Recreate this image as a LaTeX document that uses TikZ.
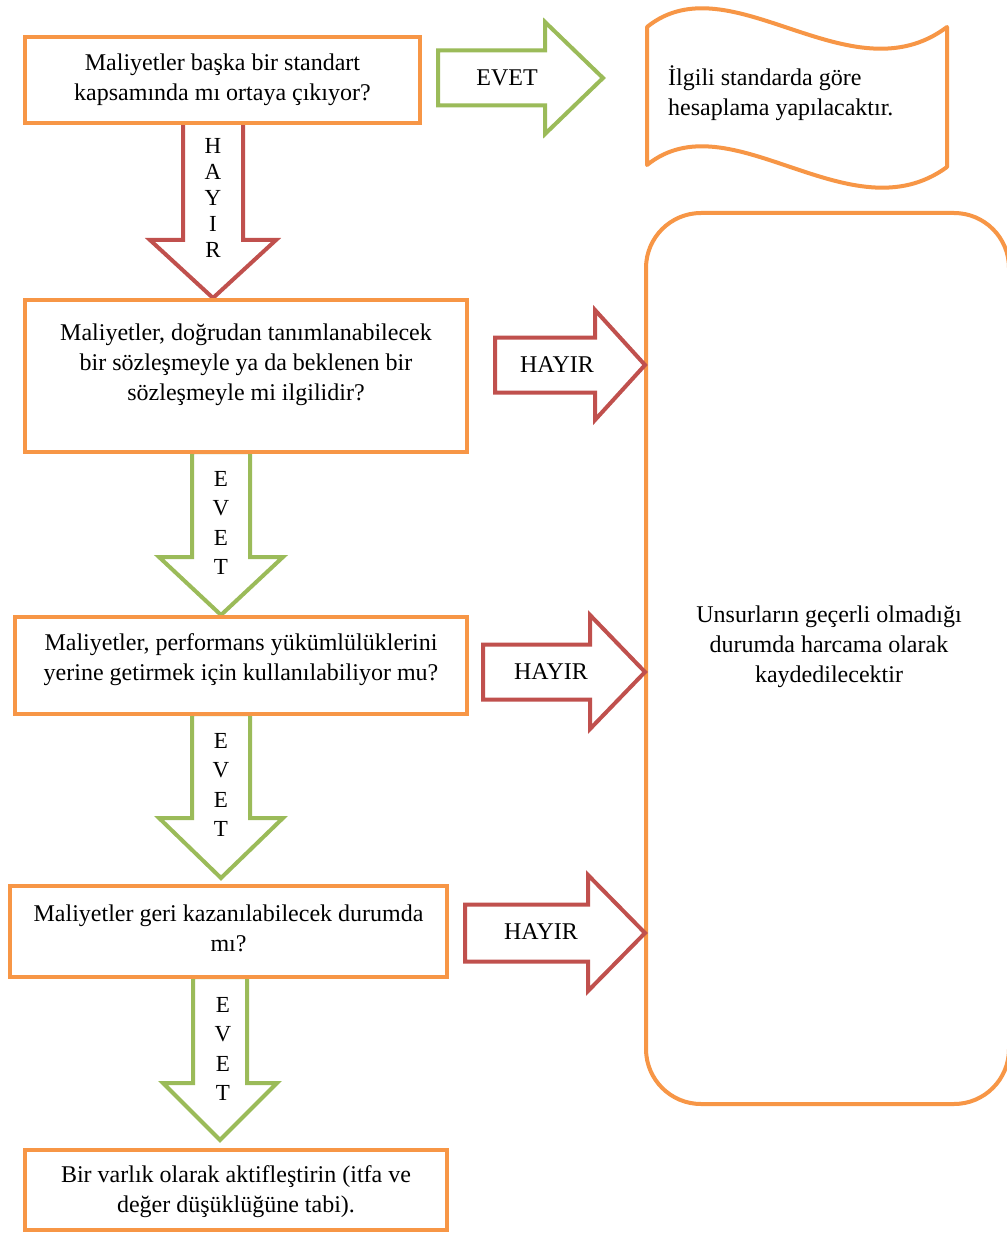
\documentclass[tikz,border=0pt]{standalone}
\usepackage{fontspec}
\setmainfont{Liberation Serif}
\definecolor{ora}{HTML}{F79646}
\definecolor{grn}{HTML}{9BBB59}
\definecolor{rd}{HTML}{C0504D}
\newcommand{\rArrow}[7]{% color, x0, x1, x2, yc, h, H
  \draw[#1, line width=4pt, fill=white, line join=miter]
    (#2,#5-#6) -- (#3,#5-#6) -- (#3,#5-#7) -- (#4,#5) -- (#3,#5+#7) -- (#3,#5+#6) -- (#2,#5+#6) -- cycle;}
\newcommand{\dArrow}[7]{% color, xc, y0, y1, y2, h, H
  \draw[#1, line width=4pt, fill=white, line join=miter]
    (#2-#6,#3) -- (#2-#6,#4) -- (#2-#7,#4) -- (#2,#5) -- (#2+#7,#4) -- (#2+#6,#4) -- (#2+#6,#3) -- cycle;}
\begin{document}
\begin{tikzpicture}[x=1pt,y=-1pt,
  box/.style={draw=ora, line width=4pt, fill=white, rectangle},
  txt/.style={font=\fontsize{24}{30}\selectfont, align=center, inner sep=0pt},
  vtxt/.style={font=\fontsize{23}{26}\selectfont, align=center, inner sep=0pt},
  vtxte/.style={font=\fontsize{23}{29.5}\selectfont, align=center, inner sep=0pt}]
\useasboundingbox (0,0) rectangle (1006,1233);
\fill[white] (0,0) rectangle (1006,1233);

% big rounded box
\draw[ora, line width=4pt, rounded corners=55pt] (646,213) rectangle (1009,1104);
\node[txt] (big) at (829,647) {Unsurların geçerli olmadığı\\durumda harcama olarak\\kaydedilecektir};

% wave document
\draw[ora, line width=4pt, line join=round]
  (647,27) .. controls (730,-40) and (850,100) .. (947,27)
  -- (947,167) .. controls (850,238) and (730,98) .. (647,165) -- cycle;
\node[txt, align=left, anchor=west] (wave) at (668,93) {İlgili standarda göre\\hesaplama yapılacaktır.};

% arrows
\rArrow{grn}{438}{545}{603}{78}{27.5}{56}
\node[txt] (evet0) at (507,78) {EVET};

\dArrow{rd}{213}{120}{240}{298}{30}{63}
\node[vtxt] (hayir0) at (213,198) {H\\A\\Y\\I\\R};

\rArrow{rd}{495}{595}{645}{365}{27.5}{55}
\node[txt] (hayir1) at (557,365) {HAYIR};

\dArrow{grn}{221}{452}{557}{615}{29}{62}
\node[vtxte] (evet1) at (221,523) {E\\V\\E\\T};

\rArrow{rd}{483}{590}{645}{672}{27.5}{57}
\node[txt] (hayir2) at (551,672) {HAYIR};

\dArrow{grn}{221}{714}{818}{878}{29}{62}
\node[vtxte] (evet2) at (221,785) {E\\V\\E\\T};

\rArrow{rd}{465}{588}{645}{933}{28.5}{58}
\node[txt] (hayir3) at (541,932) {HAYIR};

\dArrow{grn}{220}{977}{1083}{1140}{27}{57}
\node[vtxte] (evet3) at (223,1049) {E\\V\\E\\T};

% boxes
\node[box, minimum width=395pt, minimum height=86pt] (b1) at (222.5,80) {};
\node[txt] (t1) at (222.5,80) {Maliyetler başka bir standart\\kapsamında mı ortaya çıkıyor?};

\node[box, minimum width=442pt, minimum height=152pt] (b2) at (246,376) {};
\node[txt] (t2) at (246,365) {Maliyetler, doğrudan tanımlanabilecek\\bir sözleşmeyle ya da beklenen bir\\sözleşmeyle mi ilgilidir?};

\node[box, minimum width=452pt, minimum height=97pt] (b3) at (241,665.5) {};
\node[txt] (t3) at (241,659.5) {Maliyetler, performans yükümlülüklerini\\yerine getirmek için kullanılabiliyor mu?};

\node[box, minimum width=437pt, minimum height=91pt] (b4) at (228.5,931.5) {};
\node[txt] (t4) at (228.5,928) {Maliyetler geri kazanılabilecek durumda\\mı?};

\node[box, minimum width=422pt, minimum height=80pt] (b5) at (236,1190) {};
\node[txt] (t5) at (236,1191.5) {Bir varlık olarak aktifleştirin (itfa ve\\değer düşüklüğüne tabi).};
\end{tikzpicture}
\end{document}
